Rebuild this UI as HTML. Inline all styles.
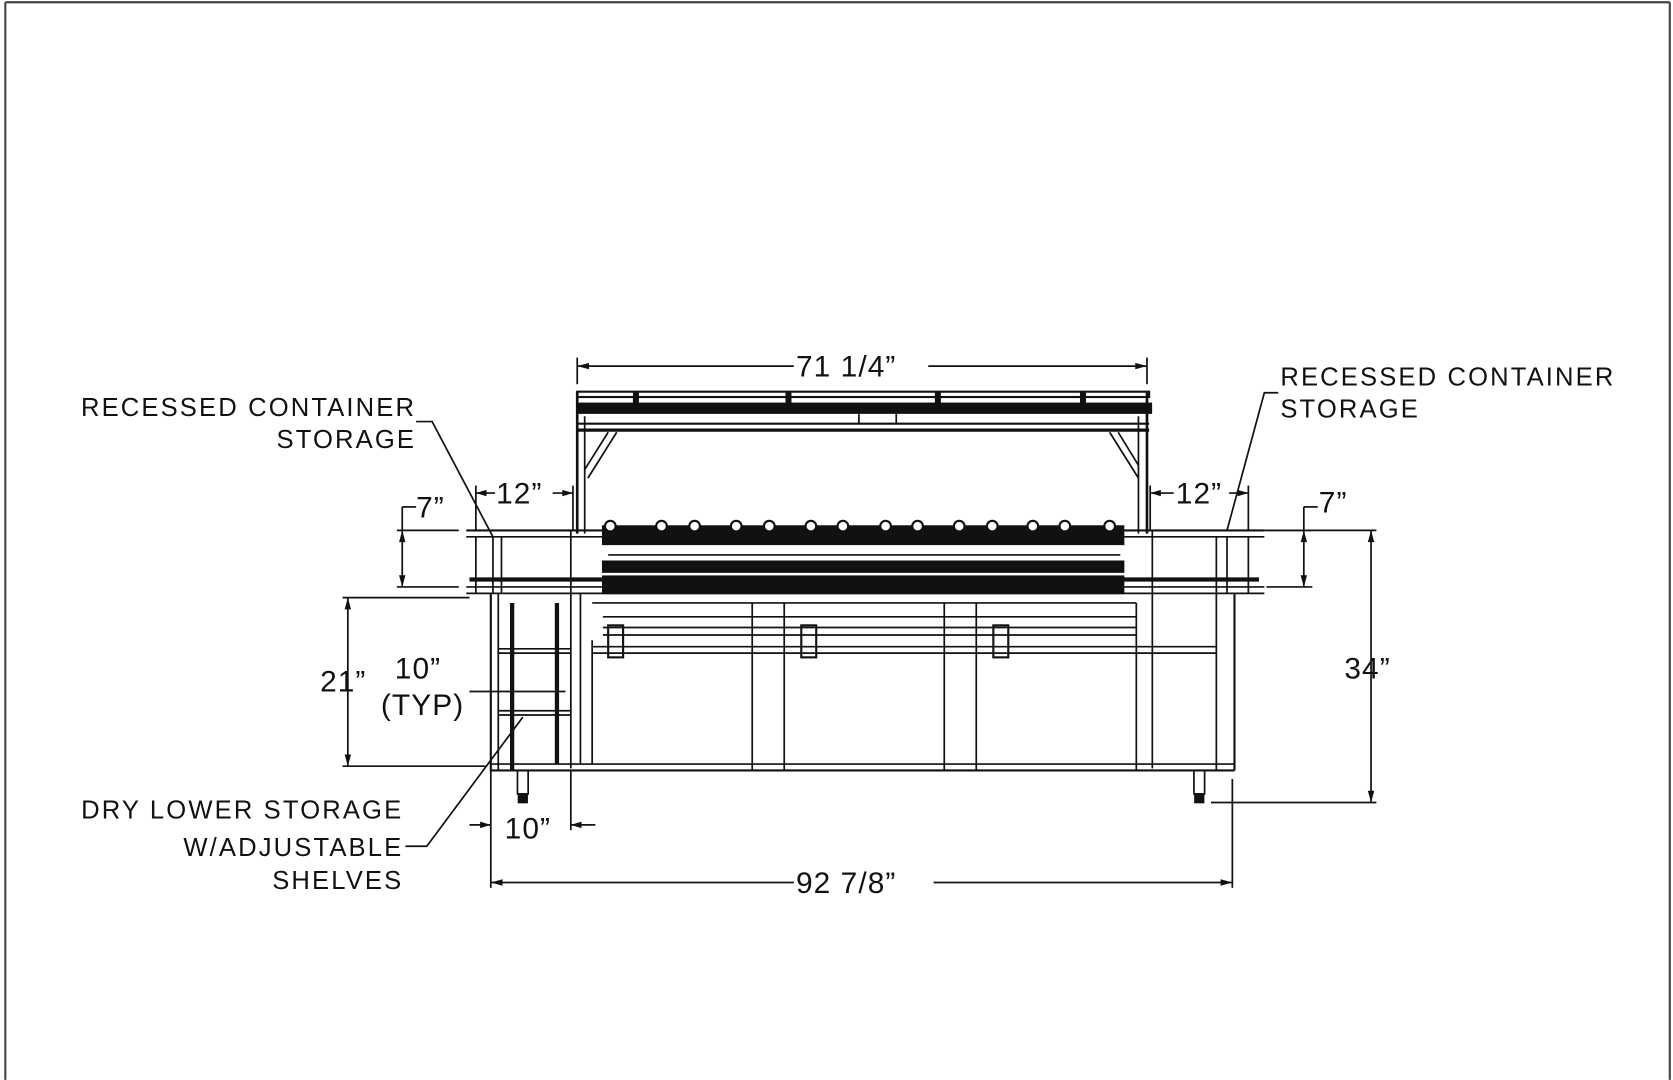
<!DOCTYPE html>
<html><head><meta charset="utf-8"><style>
html,body{margin:0;padding:0;background:#fff}
svg{display:block}
text{font-family:"Liberation Sans",sans-serif;fill:#111}
.l{font-size:24px;letter-spacing:2px}
.d{font-size:28px;letter-spacing:1px}
</style></head><body>
<svg width="1673" height="1080" viewBox="0 0 1568 1012" xmlns="http://www.w3.org/2000/svg">
<rect x="0" y="0" width="1568" height="1012" fill="#fff"/>
<g fill="none" stroke="#444" stroke-width="2">
<line x1="5" y1="2" x2="1565" y2="2"/><line x1="5" y1="2" x2="5" y2="1012"/><line x1="1565" y1="2" x2="1565" y2="1012"/>
</g>
<g stroke="#111" fill="none" stroke-width="1.6">
<line x1="541" y1="335" x2="541" y2="360"/><line x1="1075" y1="335" x2="1075" y2="360"/>
<line x1="541" y1="343" x2="744" y2="343"/><line x1="870" y1="343" x2="1075" y2="343"/>
<rect x="541" y="367" width="536" height="5" stroke-width="2"/>
<rect x="541" y="378" width="538" height="9" fill="#111"/>
<line x1="541" y1="397" x2="1077" y2="397" stroke-width="2"/>
<line x1="541" y1="403" x2="1077" y2="403" stroke-width="3"/>
<line x1="541" y1="367" x2="541" y2="500" stroke-width="2.5"/><line x1="548" y1="390" x2="548" y2="500"/>
<line x1="1075" y1="367" x2="1075" y2="500" stroke-width="2.5"/><line x1="1067" y1="390" x2="1067" y2="500"/>
<line x1="570" y1="405" x2="548" y2="440"/><line x1="578" y1="405" x2="551" y2="448"/>
<line x1="1040" y1="405" x2="1067" y2="448"/><line x1="1048" y1="405" x2="1067" y2="436"/>
<rect x="594" y="368" width="4" height="12" fill="#111"/><rect x="737" y="368" width="4" height="12" fill="#111"/><rect x="877" y="368" width="4" height="12" fill="#111"/><rect x="1013" y="368" width="4" height="12" fill="#111"/>
<line x1="805" y1="388" x2="805" y2="397"/><line x1="840" y1="388" x2="840" y2="397"/>
<line x1="437" y1="497" x2="1185" y2="497" stroke-width="2"/>
<line x1="437" y1="503" x2="1185" y2="503"/>
<line x1="440" y1="543" x2="1180" y2="543" stroke-width="4"/>
<line x1="437" y1="550" x2="1185" y2="550"/>
<line x1="437" y1="556" x2="1185" y2="556"/>
<line x1="446" y1="503" x2="446" y2="556"/><line x1="462" y1="503" x2="462" y2="556"/><line x1="470" y1="503" x2="470" y2="556"/>
<line x1="1150" y1="503" x2="1150" y2="556"/><line x1="1140" y1="503" x2="1140" y2="556"/><line x1="1170" y1="503" x2="1170" y2="556"/>
<line x1="535" y1="497" x2="535" y2="720"/><line x1="1080" y1="497" x2="1080" y2="720"/>
<rect x="565" y="493" width="488" height="17" fill="#111"/>
<rect x="565" y="526" width="488" height="10" fill="#111"/>
<rect x="565" y="540" width="488" height="16" fill="#111"/>
<line x1="570" y1="520" x2="1050" y2="520"/>
<line x1="460" y1="556" x2="460" y2="722" stroke-width="2"/><line x1="467" y1="556" x2="467" y2="722"/>
<line x1="1157" y1="556" x2="1157" y2="722" stroke-width="2"/><line x1="1140" y1="556" x2="1140" y2="722"/>
<line x1="460" y1="716" x2="1157" y2="716"/><line x1="460" y1="722" x2="1157" y2="722" stroke-width="2"/>
<line x1="544" y1="556" x2="544" y2="716"/><line x1="555" y1="600" x2="555" y2="716"/>
<line x1="705" y1="565" x2="705" y2="722"/><line x1="735" y1="565" x2="735" y2="722"/>
<line x1="885" y1="565" x2="885" y2="722"/><line x1="915" y1="565" x2="915" y2="722"/>
<line x1="1065" y1="565" x2="1065" y2="722"/>
<line x1="555" y1="565" x2="1065" y2="565"/><line x1="565" y1="578" x2="1065" y2="578"/>
<line x1="565" y1="588" x2="1065" y2="588"/><line x1="565" y1="595" x2="1065" y2="595"/>
<line x1="555" y1="606" x2="1140" y2="606"/><line x1="555" y1="612" x2="1140" y2="612"/>
<rect x="570" y="586" width="14" height="30" stroke-width="2"/><rect x="751" y="586" width="14" height="30" stroke-width="2"/><rect x="931" y="586" width="14" height="30" stroke-width="2"/>
<line x1="467" y1="608" x2="535" y2="608"/><line x1="467" y1="612" x2="535" y2="612"/>
<line x1="467" y1="666" x2="535" y2="666"/><line x1="467" y1="670" x2="535" y2="670"/>
<line x1="480" y1="565" x2="480" y2="722" stroke-width="4"/>
<line x1="522" y1="565" x2="522" y2="716" stroke-width="4"/>
<rect x="485" y="722" width="10" height="22"/><rect x="486" y="744" width="8" height="8" fill="#111"/>
<rect x="1119" y="722" width="10" height="22"/><rect x="1120" y="744" width="8" height="8" fill="#111"/>
<line x1="446" y1="455" x2="446" y2="497"/><line x1="537" y1="455" x2="537" y2="497"/>
<line x1="446" y1="462" x2="464" y2="462"/><line x1="518" y1="462" x2="537" y2="462"/>
<line x1="1078" y1="455" x2="1078" y2="497"/><line x1="1170" y1="455" x2="1170" y2="497"/>
<line x1="1078" y1="462" x2="1100" y2="462"/><line x1="1152" y1="462" x2="1170" y2="462"/>
<line x1="377" y1="475" x2="390" y2="475"/><line x1="377" y1="475" x2="377" y2="550"/>
<line x1="372" y1="497" x2="430" y2="497"/><line x1="372" y1="550" x2="430" y2="550"/>
<line x1="1222" y1="475" x2="1235" y2="475"/><line x1="1222" y1="475" x2="1222" y2="550"/>
<line x1="1187" y1="497" x2="1230" y2="497"/><line x1="1187" y1="550" x2="1230" y2="550"/>
<line x1="1160" y1="497" x2="1290" y2="497"/><line x1="1285" y1="497" x2="1285" y2="752"/><line x1="1135" y1="752" x2="1290" y2="752"/>
<line x1="321" y1="560" x2="440" y2="560"/><line x1="321" y1="718" x2="455" y2="718"/><line x1="326" y1="560" x2="326" y2="718"/>
<line x1="440" y1="648" x2="530" y2="648"/>
<line x1="460" y1="722" x2="460" y2="832"/><line x1="535" y1="722" x2="535" y2="778"/><line x1="1155" y1="730" x2="1155" y2="832"/>
<line x1="440" y1="773" x2="460" y2="773"/><line x1="535" y1="773" x2="558" y2="773"/>
<line x1="460" y1="827" x2="744" y2="827"/><line x1="875" y1="827" x2="1155" y2="827"/>
<polyline points="390,395 405,395 462,503"/>
<polyline points="1198,368 1185,368 1150,497"/>
<polyline points="380,793 400,793 490,672"/>
</g>
<g fill="#111">
<polygon points="541,343 552,340 552,346"/><polygon points="1075,343 1064,340 1064,346"/>
<polygon points="460,827 471,824 471,830"/><polygon points="1155,827 1144,824 1144,830"/>
<polygon points="326,560 323,571 329,571"/><polygon points="326,718 323,707 329,707"/>
<polygon points="1285,497 1282,508 1288,508"/><polygon points="1285,752 1282,741 1288,741"/>
<polygon points="377,497 374,508 380,508"/><polygon points="377,550 374,539 380,539"/>
<polygon points="1222,497 1219,508 1225,508"/><polygon points="1222,550 1219,539 1225,539"/>
<polygon points="446,462 456,459 456,465"/><polygon points="537,462 527,459 527,465"/>
<polygon points="1078,462 1088,459 1088,465"/><polygon points="1170,462 1160,459 1160,465"/>
<polygon points="460,773 450,770 450,776"/><polygon points="535,773 545,770 545,776"/>
<g stroke="#111" stroke-width="2" fill="#fff">
<circle cx="572" cy="493" r="5"/><circle cx="620" cy="493" r="5"/><circle cx="651" cy="493" r="5"/><circle cx="690" cy="493" r="5"/><circle cx="721" cy="493" r="5"/><circle cx="760" cy="493" r="5"/><circle cx="790" cy="493" r="5"/><circle cx="830" cy="493" r="5"/><circle cx="860" cy="493" r="5"/><circle cx="899" cy="493" r="5"/><circle cx="930" cy="493" r="5"/><circle cx="968" cy="493" r="5"/><circle cx="998" cy="493" r="5"/><circle cx="1040" cy="493" r="5"/>
</g>
</g>
<text class="d" x="746" y="353">71  1/4”</text>
<text class="d" x="746" y="837">92  7/8”</text>
<text class="d" x="465" y="472">12”</text>
<text class="d" x="1102" y="472">12”</text>
<text class="d" x="390" y="485">7”</text>
<text class="d" x="1236" y="480">7”</text>
<text class="d" x="1260" y="636">34”</text>
<text class="d" x="300" y="648">21”</text>
<text class="d" x="370" y="636">10”</text>
<text class="d" x="357" y="670">(TYP)</text>
<text class="d" x="473" y="786">10”</text>
<text class="l" x="390" y="390" text-anchor="end">RECESSED  CONTAINER</text>
<text class="l" x="390" y="420" text-anchor="end">STORAGE</text>
<text class="l" x="1200" y="361">RECESSED  CONTAINER</text>
<text class="l" x="1200" y="391">STORAGE</text>
<text class="l" x="378" y="767" text-anchor="end">DRY  LOWER  STORAGE</text>
<text class="l" x="378" y="802" text-anchor="end">W/ADJUSTABLE</text>
<text class="l" x="378" y="833" text-anchor="end">SHELVES</text>
</svg>
</body></html>
